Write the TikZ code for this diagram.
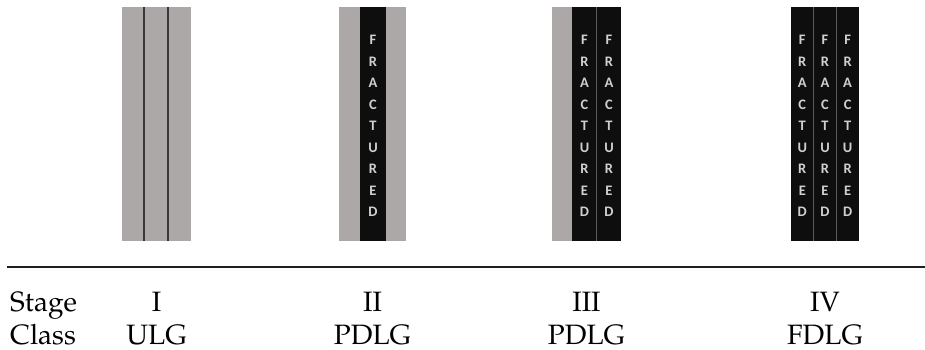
\documentclass[tikz,border=0pt]{standalone}
\usepackage{fontspec}
\newfontfamily\carl{Carlito}
\usepackage[T1]{fontenc}
\usepackage{mathpazo}
\definecolor{lggray}{HTML}{ACA8A8}
\definecolor{lgdark}{HTML}{383838}
\definecolor{lgblack}{HTML}{0E0E0E}
\definecolor{lgsep}{HTML}{5C5C5C}
\definecolor{lgletter}{HTML}{D0D0D0}
\tikzset{
  x=1pt, y=-1pt,
  graystrip/.style={fill=lggray, draw=none},
  blackstrip/.style={fill=lgblack, draw=none},
  seam/.style={draw=lgsep, line width=1.4pt},
  wall/.style={draw=lgdark, line width=2.2pt},
  frac/.style={inner sep=0pt, align=center, text=lgletter,
    font=\carl\bfseries\fontsize{14.5}{21.5}\selectfont},
  lab/.style={inner sep=0pt, anchor=base, font=\fontsize{28}{30}\selectfont},
}
\newcommand{\fracword}{F\\R\\A\\C\\T\\U\\R\\E\\D}
\begin{document}
\begin{tikzpicture}
\useasboundingbox (0,0) rectangle (925,349);
% Stage I
\fill[graystrip] (122,7) rectangle (191,241);
\draw[wall] (144,7) -- (144,241);
\draw[wall] (168,7) -- (168,241);
% Stage II
\fill[graystrip] (339,7) rectangle (406,241);
\fill[blackstrip] (360,7) rectangle (386,241);
\node[frac] (f2) at (373,126) {\fracword};
% Stage III
\fill[graystrip] (552,7) rectangle (572,241);
\fill[blackstrip] (572,7) rectangle (621,241);
\draw[seam] (596.5,7) -- (596.5,241);
\node[frac] (f3a) at (584.5,126) {\fracword};
\node[frac] (f3b) at (609,126) {\fracword};
% Stage IV
\fill[blackstrip] (791,7) rectangle (859,241);
\draw[seam] (813.7,7) -- (813.7,241);
\draw[seam] (836.3,7) -- (836.3,241);
\node[frac] (f4a) at (802.3,126) {\fracword};
\node[frac] (f4b) at (825,126) {\fracword};
\node[frac] (f4c) at (847.6,126) {\fracword};
% rule
\draw[draw=black!88, line width=2pt] (7,267) -- (925,267);
% labels
\node[lab, anchor=base west] (stage) at (10,311) {Stage};
\node[lab, anchor=base west] (class) at (10,344.5) {Class};
\node[lab] (s1) at (156.5,311) {I};
\node[lab] (c1) at (156.5,344.5) {ULG};
\node[lab] (s2) at (372.5,311) {II};
\node[lab] (c2) at (372.5,344.5) {PDLG};
\node[lab] (s3) at (586.5,311) {III};
\node[lab] (c3) at (586.5,344.5) {PDLG};
\node[lab] (s4) at (825,311) {IV};
\node[lab] (c4) at (825,344.5) {FDLG};
\end{tikzpicture}
\end{document}
